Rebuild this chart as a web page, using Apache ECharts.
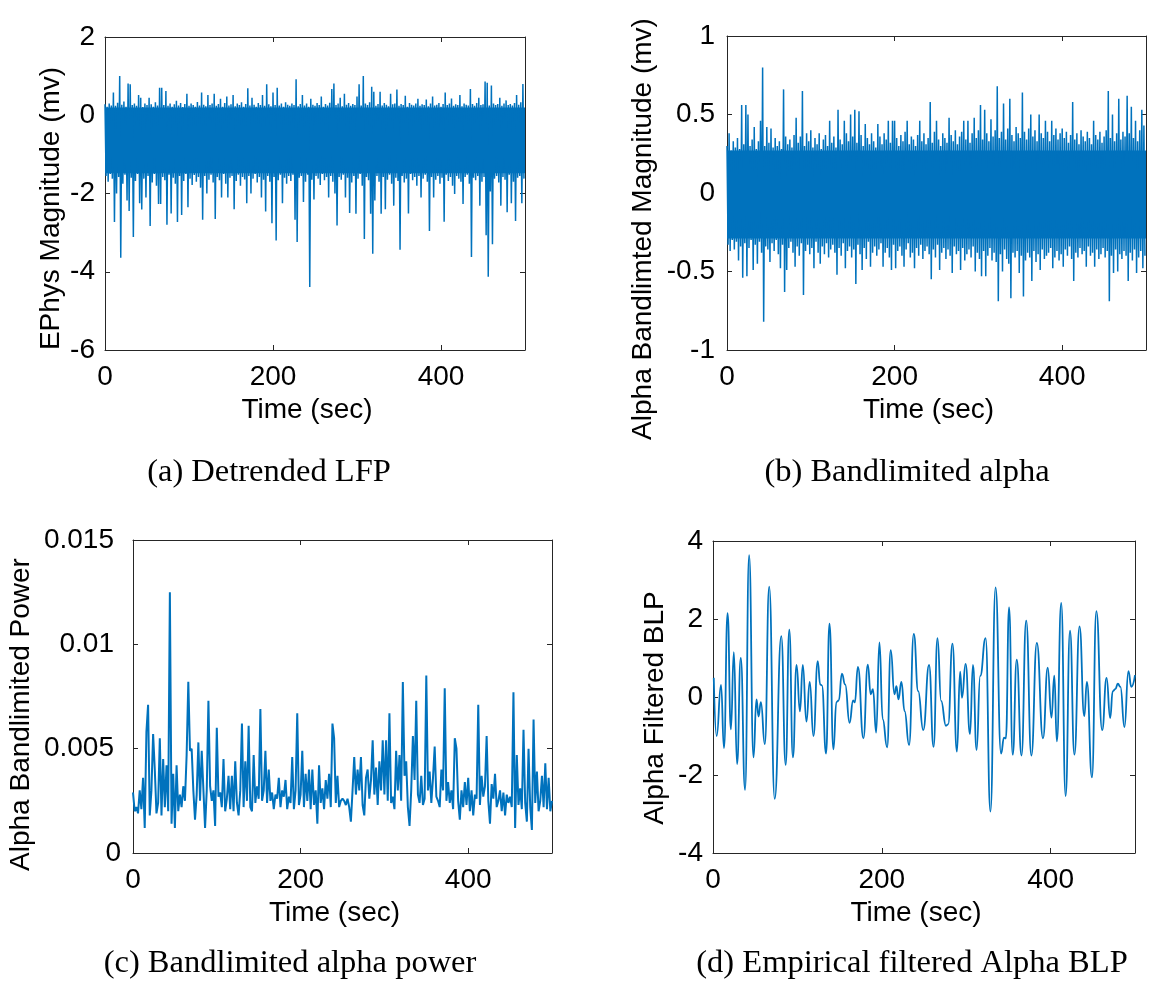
<!DOCTYPE html>
<html><head><meta charset="utf-8">
<script src="https://cdn.jsdelivr.net/npm/echarts@6/dist/echarts.min.js"></script>
<style>html,body{margin:0;padding:0;background:#fff}#chart{width:1149px;height:994px}</style>
</head><body><div id="chart"></div>
<script>
// ---------------- DATA ----------------
const timeRange = [0, 500];
const timeTickStep = 200;              // ticks 0, 200, 400
const captions = ['(a) Detrended LFP', '(b) Bandlimited alpha', '(c) Bandlimited alpha power', '(d) Empirical filtered Alpha BLP'];
const yNames = ['EPhys Magnitude (mv)', 'Alpha Bandlimted Magnitude (mv)', 'Alpha Bandlimited Power', 'Alpha Filtered BLP'];
const yRanges = [[-6, 2, 2], [-1, 1, 0.5], [0, 0.015, 0.005], [-4, 4, 2]];

// (a) detrended LFP: range the signal fills continuously, plus upper / lower excursions per 2.5 s sample
const lfpCore = [-1.48, 0.20];
const lfpStep = 2.5;
const lfpUpper = [
 0.28,0.22,0.30,0.25,0.58,0.24,0.32,1.00,0.27,0.35,
 0.22,0.81,0.79,0.26,0.30,0.24,0.52,0.45,0.21,0.30,
 0.26,0.45,0.28,0.22,0.33,0.25,0.70,0.70,0.26,0.62,
 0.24,0.30,0.22,0.28,0.37,0.25,0.31,0.21,0.29,0.55,
 0.24,0.30,0.26,0.22,0.34,0.25,0.58,0.27,0.23,0.52,
 0.26,0.30,0.55,0.24,0.29,0.42,0.22,0.31,0.48,0.25,
 0.28,0.52,0.23,0.30,0.26,0.33,0.22,0.29,0.69,0.25,
 0.45,0.27,0.22,0.31,0.26,0.52,0.24,0.79,0.28,0.23,
 0.58,0.26,0.70,0.25,0.30,0.22,0.33,0.27,0.24,0.30,
 0.26,0.92,0.23,0.29,0.52,0.25,0.30,0.22,0.42,0.27,
 0.24,0.31,0.26,0.48,0.22,0.29,0.25,0.32,0.67,0.81,
 0.26,0.30,0.45,0.23,0.55,0.27,0.31,0.24,0.29,0.26,
 0.48,0.79,0.25,1.00,0.30,0.26,0.33,0.73,0.60,0.24,
 0.29,0.60,0.25,0.31,0.27,0.23,0.55,0.28,0.30,0.66,
 0.24,0.29,0.26,0.50,0.22,0.31,0.27,0.25,0.30,0.42,
 0.24,0.28,0.26,0.40,0.23,0.30,0.48,0.25,0.27,0.31,
 0.22,0.29,0.58,0.26,0.30,0.43,0.24,0.28,0.26,0.52,
 0.23,0.30,0.27,0.25,0.67,0.29,0.24,0.31,0.45,0.26,
 0.28,0.86,0.83,0.25,0.76,0.30,0.26,0.29,0.45,0.24,
 0.30,0.38,0.26,0.29,0.25,0.31,0.52,0.27,0.33,0.80
];
const lfpLower = [
 -1.55,-1.70,-1.50,-1.62,-2.73,-2.00,-1.58,-3.64,-1.75,-1.52,
 -2.18,-2.45,-1.60,-3.11,-1.68,-1.50,-2.25,-2.41,-1.62,-2.10,
 -1.55,-2.83,-1.72,-1.50,-1.80,-2.27,-2.27,-1.58,-1.66,-2.80,
 -1.52,-2.51,-1.60,-1.75,-2.73,-1.55,-2.55,-1.68,-1.50,-2.35,
 -1.62,-1.78,-1.53,-1.70,-1.58,-1.85,-2.67,-1.55,-2.00,-1.65,
 -1.52,-1.72,-2.65,-1.58,-1.66,-2.10,-1.50,-1.75,-2.10,-1.60,
 -1.55,-2.40,-1.68,-1.52,-1.80,-1.58,-1.64,-2.25,-1.55,-2.00,
 -1.62,-1.50,-1.72,-1.58,-2.10,-1.65,-2.46,-1.55,-1.70,-2.76,
 -1.58,-3.20,-1.66,-1.52,-2.25,-1.60,-1.75,-1.55,-1.68,-1.52,
 -2.67,-3.24,-1.60,-1.55,-2.22,-1.70,-1.52,-4.39,-1.65,-2.15,
 -1.55,-1.62,-1.78,-1.50,-1.66,-1.58,-2.10,-1.55,-1.70,-2.00,
 -2.82,-1.58,-1.65,-1.52,-2.10,-1.60,-2.50,-1.72,-1.55,-2.52,
 -1.62,-1.50,-1.80,-3.16,-1.58,-1.66,-2.52,-3.54,-2.18,-1.55,
 -1.70,-2.52,-1.58,-2.40,-1.65,-1.52,-1.75,-2.31,-1.60,-1.68,
 -3.44,-1.55,-1.72,-1.62,-2.51,-1.50,-1.66,-1.58,-1.80,-1.55,
 -2.10,-1.62,-1.52,-1.70,-2.96,-1.58,-2.10,-1.65,-1.55,-1.75,
 -1.60,-2.72,-1.52,-1.68,-1.58,-1.80,-2.01,-1.55,-1.62,-1.70,
 -2.27,-1.58,-1.52,-1.75,-3.62,-1.60,-1.66,-1.55,-2.31,-1.70,
 -1.58,-3.07,-4.13,-1.95,-3.30,-1.62,-1.55,-1.72,-2.31,-1.58,
 -1.65,-2.48,-1.52,-2.25,-1.70,-2.70,-1.60,-1.55,-2.25,-1.62
];

// (b) bandlimited alpha: continuous range plus upper / lower excursions per 2.5 s sample
const alphaCore = [-0.29, 0.27];
const alphaStep = 2.5;
const alphaUpper = [
 0.30,0.38,0.27,0.33,0.29,0.35,0.28,0.56,0.31,0.56,
 0.50,0.30,0.34,0.42,0.28,0.33,0.46,0.80,0.30,0.42,
 0.32,0.41,0.29,0.35,0.30,0.33,0.28,0.66,0.36,0.31,
 0.34,0.29,0.37,0.48,0.32,0.36,0.65,0.30,0.38,0.33,
 0.40,0.29,0.35,0.31,0.38,0.28,0.34,0.37,0.30,0.46,
 0.32,0.36,0.29,0.53,0.34,0.31,0.46,0.38,0.33,0.50,
 0.36,0.53,0.32,0.52,0.37,0.30,0.44,0.35,0.31,0.38,
 0.33,0.29,0.44,0.36,0.31,0.38,0.34,0.46,0.32,0.46,
 0.46,0.35,0.30,0.37,0.33,0.39,0.46,0.31,0.36,0.34,
 0.30,0.37,0.46,0.33,0.38,0.31,0.35,0.58,0.32,0.39,
 0.46,0.34,0.30,0.38,0.35,0.32,0.48,0.37,0.33,0.40,
 0.31,0.36,0.39,0.46,0.34,0.46,0.32,0.38,0.48,0.35,
 0.40,0.56,0.34,0.53,0.38,0.33,0.47,0.36,0.40,0.68,
 0.35,0.39,0.57,0.34,0.41,0.60,0.37,0.33,0.42,0.38,
 0.35,0.64,0.39,0.34,0.41,0.50,0.36,0.40,0.33,0.50,
 0.38,0.35,0.46,0.39,0.33,0.46,0.37,0.41,0.34,0.38,
 0.41,0.35,0.39,0.32,0.37,0.58,0.34,0.38,0.31,0.40,
 0.36,0.33,0.39,0.35,0.31,0.46,0.37,0.34,0.39,0.32,
 0.36,0.40,0.65,0.35,0.50,0.33,0.38,0.60,0.34,0.39,
 0.36,0.62,0.38,0.55,0.35,0.46,0.33,0.40,0.53,0.43
];
const alphaLower = [
 -0.33,-0.37,-0.30,-0.36,-0.31,-0.43,-0.34,-0.54,-0.32,-0.53,
 -0.35,-0.30,-0.49,-0.33,-0.45,-0.31,-0.38,-0.82,-0.34,-0.36,
 -0.44,-0.32,-0.37,-0.30,-0.39,-0.48,-0.33,-0.63,-0.49,-0.35,
 -0.31,-0.38,-0.47,-0.34,-0.40,-0.32,-0.65,-0.37,-0.33,-0.39,
 -0.35,-0.48,-0.31,-0.38,-0.45,-0.34,-0.39,-0.32,-0.41,-0.36,
 -0.33,-0.38,-0.52,-0.35,-0.40,-0.32,-0.48,-0.37,-0.34,-0.41,
 -0.36,-0.58,-0.33,-0.39,-0.49,-0.35,-0.42,-0.31,-0.47,-0.38,
 -0.34,-0.40,-0.36,-0.32,-0.47,-0.38,-0.35,-0.41,-0.49,-0.33,
 -0.48,-0.37,-0.34,-0.40,-0.47,-0.36,-0.32,-0.41,-0.38,-0.48,
 -0.35,-0.40,-0.33,-0.42,-0.37,-0.34,-0.39,-0.55,-0.36,-0.41,
 -0.33,-0.49,-0.38,-0.35,-0.42,-0.36,-0.40,-0.51,-0.34,-0.39,
 -0.37,-0.49,-0.35,-0.43,-0.39,-0.36,-0.41,-0.34,-0.50,-0.38,
 -0.42,-0.53,-0.37,-0.53,-0.40,-0.35,-0.43,-0.38,-0.44,-0.69,
 -0.39,-0.50,-0.36,-0.42,-0.45,-0.67,-0.38,-0.41,-0.37,-0.51,
 -0.40,-0.66,-0.43,-0.38,-0.41,-0.56,-0.37,-0.44,-0.39,-0.49,
 -0.36,-0.42,-0.40,-0.38,-0.35,-0.48,-0.41,-0.37,-0.43,-0.39,
 -0.47,-0.36,-0.40,-0.34,-0.42,-0.56,-0.38,-0.41,-0.35,-0.39,
 -0.37,-0.47,-0.34,-0.40,-0.38,-0.47,-0.36,-0.42,-0.39,-0.35,
 -0.41,-0.37,-0.69,-0.40,-0.51,-0.36,-0.50,-0.39,-0.42,-0.37,
 -0.40,-0.56,-0.38,-0.43,-0.36,-0.51,-0.41,-0.37,-0.48,-0.40
];

// (c) bandlimited alpha power, one value per 2 s
const powerStep = 2;
const powerValues = [
 0.0029,0.0020,0.0022,0.0019,0.0030,0.0021,0.0036,0.0012,0.0058,0.0071,
 0.0018,0.0030,0.0057,0.0040,0.0019,0.0024,0.0055,0.0018,0.0045,0.0022,
 0.0042,0.0020,0.0125,0.0014,0.0038,0.0012,0.0042,0.0020,0.0028,0.0022,
 0.0032,0.0025,0.0047,0.0082,0.0049,0.0050,0.0030,0.0016,0.0028,0.0053,
 0.0025,0.0049,0.0049,0.0012,0.0030,0.0073,0.0032,0.0025,0.0030,0.0013,
 0.0060,0.0027,0.0029,0.0022,0.0045,0.0020,0.0026,0.0037,0.0021,0.0037,
 0.0020,0.0044,0.0024,0.0018,0.0030,0.0062,0.0022,0.0044,0.0025,0.0061,
 0.0022,0.0020,0.0047,0.0024,0.0032,0.0026,0.0069,0.0025,0.0030,0.0049,
 0.0024,0.0040,0.0025,0.0029,0.0021,0.0028,0.0026,0.0036,0.0022,0.0030,
 0.0027,0.0035,0.0021,0.0027,0.0024,0.0046,0.0021,0.0030,0.0067,0.0023,
 0.0028,0.0049,0.0022,0.0038,0.0025,0.0040,0.0021,0.0040,0.0023,0.0030,
 0.0014,0.0042,0.0024,0.0031,0.0021,0.0035,0.0026,0.0038,0.0022,0.0062,
 0.0055,0.0024,0.0037,0.0022,0.0025,0.0026,0.0025,0.0023,0.0026,0.0022,
 0.0015,0.0030,0.0046,0.0028,0.0040,0.0030,0.0046,0.0023,0.0018,0.0036,
 0.0040,0.0026,0.0035,0.0054,0.0028,0.0041,0.0023,0.0044,0.0030,0.0054,
 0.0028,0.0054,0.0025,0.0067,0.0024,0.0027,0.0021,0.0049,0.0030,0.0047,
 0.0025,0.0082,0.0037,0.0044,0.0022,0.0013,0.0030,0.0056,0.0035,0.0073,
 0.0028,0.0024,0.0037,0.0023,0.0026,0.0085,0.0030,0.0039,0.0024,0.0036,
 0.0051,0.0027,0.0025,0.0022,0.0040,0.0030,0.0079,0.0025,0.0034,0.0024,
 0.0030,0.0021,0.0055,0.0050,0.0025,0.0016,0.0030,0.0022,0.0034,0.0023,
 0.0036,0.0020,0.0030,0.0018,0.0028,0.0026,0.0071,0.0023,0.0037,0.0027,
 0.0032,0.0056,0.0025,0.0014,0.0033,0.0026,0.0038,0.0022,0.0025,0.0030,
 0.0020,0.0029,0.0018,0.0028,0.0024,0.0027,0.0022,0.0077,0.0012,0.0047,
 0.0023,0.0031,0.0021,0.0059,0.0024,0.0015,0.0050,0.0022,0.0011,0.0064,
 0.0024,0.0039,0.0020,0.0025,0.0037,0.0022,0.0043,0.0021,0.0036,0.0020,
 0.0025
];

// (d) empirical filtered alpha BLP: turning points (time, value)
const blpTime = [
 0.9,4.3,9.5,13,17.3,21.2,24.7,28.5,32.9,38,42.8,48,51.5,54,56.7,61.4,66.6,73.1,80.9,86.1,
 90.4,94.7,99,103,106.4,110.7,114.6,119,124.1,127,129,134,138,142.7,146.2,149,152.7,156.6,161.8,166,
 168,171.7,178.2,183.4,186.9,189.5,193.3,197.2,201.1,206.3,210.6,215,217.3,219.7,223.2,227,232.3,237.9,243.1,249.1,
 256,261.3,266,270.3,276,278.6,283.7,289,292.8,295,299.3,304.5,308,312.3,316.6,323,328.7,334.8,341.3,344.8,
 347,350.8,355.1,359.9,365.5,371.1,377.2,383.7,391,396.6,401,404.4,407.4,412.6,417.8,423,428.2,434.3,439.9,443,
 449,454.2,461.1,466.3,470.6,473.6,476.6,479.7,482.7,487.5,492.2,495.7,500
];
const blpValue = [
 0.49,-1.00,0.31,-1.31,2.15,-0.83,1.15,-1.72,1.00,-2.38,3.64,-1.55,-0.06,-0.50,-0.13,-1.21,2.83,-2.61,1.56,-1.74,
 1.73,-1.55,0.82,-0.37,0.82,-0.63,0.39,-1.00,0.92,0.32,0.30,-1.45,1.88,-1.34,-0.13,-0.09,0.60,0.32,-0.66,-0.09,
 -0.14,0.77,-1.06,0.83,0.07,0.20,-0.91,1.40,-0.57,-1.29,1.20,0.07,0.28,-0.06,0.39,-0.36,-1.23,1.62,0.15,-0.85,
 0.82,-1.28,1.51,-0.10,-0.74,-0.70,1.37,-1.40,0.65,-0.02,0.85,-0.95,0.82,-1.36,0.54,1.51,-2.94,2.81,-1.45,-1.04,
 -1.06,2.30,-1.48,0.96,-1.50,1.96,-1.50,1.39,-1.06,0.75,-0.53,0.55,-1.14,2.41,-2.54,1.70,-1.48,1.81,-0.49,0.39,
 -2.06,2.20,-0.85,0.49,-0.54,0.15,0.20,0.34,0.26,-0.77,0.66,0.26,0.56
];

// ---------------- CHART ----------------
const FONT = '"Liberation Sans", Arial, Helvetica, sans-serif';
const SERIF = '"Liberation Serif", "Times New Roman", serif';
const AX = '#262626';
const BLUE = '#0072BD';

function zigzag(step, upper, lower) {
  const out = [];
  for (let i = 0; i < upper.length; i++) {
    out.push([i * step, upper[i]]);
    out.push([i * step + step / 2, lower[i]]);
  }
  return out;
}
function uniform(step, vals) { return vals.map((v, i) => [i * step, v]); }
function pairs(ts, vs) { return ts.map((t, i) => [t, vs[i]]); }

const grids = [
  {left: 105, top: 37, width: 420, height: 313},
  {left: 727, top: 36, width: 419, height: 314},
  {left: 133, top: 540, width: 419, height: 313},
  {left: 713, top: 541, width: 422, height: 312}
];
const yNameGap = [40, 70, 98, 44];
const yNameShift = [30, 72, 36, 22];
const yLabelMargin = [10, 12, 12, 10];

const axisLine = {show: true, onZero: false, lineStyle: {color: AX, width: 1}};
const axisTick = {show: true, inside: true, length: 5, lineStyle: {color: AX, width: 1}};
const labelStyle = {color: '#000', fontSize: 28, fontFamily: FONT};

const xAxis = [], yAxis = [];
grids.forEach((g, k) => {
  xAxis.push({gridIndex: k, type: 'value', position: 'bottom', min: timeRange[0], max: timeRange[1], interval: timeTickStep,
    axisLine, axisTick, splitLine: {show: false},
    axisLabel: Object.assign({margin: 13, showMaxLabel: false}, labelStyle),
    name: 'Time (sec)', nameLocation: 'middle', nameGap: 46,
    nameTextStyle: Object.assign({padding: [0, 16, 0, 0]}, labelStyle)});
  xAxis.push({gridIndex: k, type: 'value', position: 'top', min: timeRange[0], max: timeRange[1], interval: timeTickStep,
    axisLine, axisTick, splitLine: {show: false}, axisLabel: {show: false}});
  const r = yRanges[k];
  const yl = Object.assign({margin: yLabelMargin[k]}, labelStyle);
  if (k === 2) {
    // non-zero labels of the power axis sit a little further from the axis
    yl.formatter = v => (v === 0 ? '{z|0}' : '{p|' + v + '}');
    yl.rich = {z: Object.assign({}, labelStyle), p: Object.assign({padding: [0, 7, 0, 0]}, labelStyle)};
  }
  yAxis.push({gridIndex: k, type: 'value', position: 'left', min: r[0], max: r[1], interval: r[2],
    axisLine, axisTick, splitLine: {show: false},
    axisLabel: yl,
    name: yNames[k], nameLocation: 'middle', nameRotate: 90, nameGap: yNameGap[k],
    nameTextStyle: Object.assign({padding: [0, yNameShift[k], 0, 0]}, labelStyle)});
  yAxis.push({gridIndex: k, type: 'value', position: 'right', min: r[0], max: r[1], interval: r[2],
    axisLine, axisTick, splitLine: {show: false}, axisLabel: {show: false}});
});

const common = {type: 'line', showSymbol: false, symbol: 'none', animation: false, silent: true, clip: true};
function coreArea(core) {
  return {silent: true, itemStyle: {color: BLUE, opacity: 1}, label: {show: false},
    data: [[{yAxis: core[0]}, {yAxis: core[1]}]]};
}
const series = [
  Object.assign({}, common, {xAxisIndex: 0, yAxisIndex: 0, data: zigzag(lfpStep, lfpUpper, lfpLower),
    lineStyle: {color: BLUE, width: 1.5}, markArea: coreArea(lfpCore)}),
  Object.assign({}, common, {xAxisIndex: 2, yAxisIndex: 2, data: zigzag(alphaStep, alphaUpper, alphaLower),
    lineStyle: {color: BLUE, width: 1.5}, markArea: coreArea(alphaCore)}),
  Object.assign({}, common, {xAxisIndex: 4, yAxisIndex: 4, data: uniform(powerStep, powerValues), lineStyle: {color: BLUE, width: 2}}),
  Object.assign({}, common, {xAxisIndex: 6, yAxisIndex: 6, data: pairs(blpTime, blpValue), smooth: 0.5, smoothMonotone: 'x', lineStyle: {color: BLUE, width: 1.8}})
];

const captionPos = [[269, 472], [907, 472], [290, 963], [912, 963]];
const graphic = captions.map((c, k) => ({
  type: 'text', x: captionPos[k][0], y: captionPos[k][1], silent: true,
  style: {text: c, fill: '#000', font: '32.5px ' + SERIF, textAlign: 'center', textVerticalAlign: 'middle'}
}));

const chart = echarts.init(document.getElementById('chart'), null, {renderer: 'canvas'});
chart.setOption({
  animation: false,
  backgroundColor: '#fff',
  grid: grids.map(g => Object.assign({containLabel: false, outerBoundsMode: 'none'}, g)),
  xAxis, yAxis, series, graphic
});
</script>
</body></html>
